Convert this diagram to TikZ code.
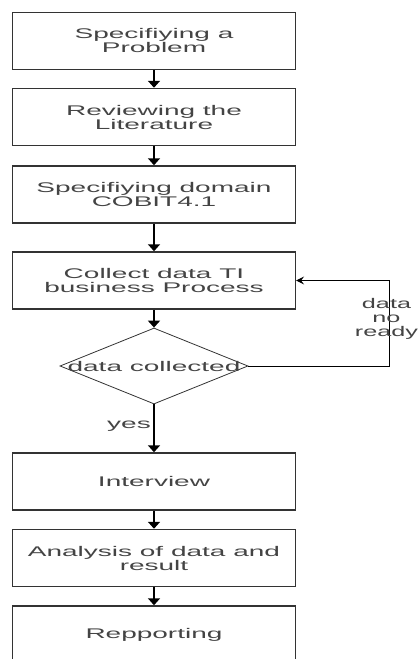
\documentclass[tikz,border=0pt]{standalone}
\usepackage{fontspec}
\newfontfamily\widefont[FakeStretch=2.0]{Liberation Sans}
\newfontfamily\sidefont[FakeStretch=1.8]{Liberation Sans}
\usetikzlibrary{shapes.geometric,arrows.meta}
\definecolor{txt}{HTML}{444444}
\definecolor{edge}{HTML}{333333}
\begin{document}
\begin{tikzpicture}[x=1pt,y=-1pt,
  stepbox/.style={draw=edge,line width=1.5pt,rectangle,minimum width=282.6pt,minimum height=57pt,inner sep=0pt,
    align=center,text=txt,font=\widefont\fontsize{14}{14}\selectfont},
  decision/.style={draw=edge,line width=0.8pt,diamond,aspect=2.4737,minimum width=188pt,minimum height=76pt,inner sep=0pt,
    text=txt,font=\widefont\fontsize{14}{14}\selectfont},
  lab/.style={text=txt,font=\widefont\fontsize{14}{14}\selectfont,align=center,inner sep=0pt},
  sidelab/.style={text=txt,font=\sidefont\fontsize{14}{14}\selectfont,align=center,inner sep=0pt},
  flow/.style={line width=2pt,-{Triangle[width=12pt,length=7pt]}},
  loop/.style={line width=1pt,draw=black,-{Stealth[width=8pt,length=8pt,inset=3pt]}}]
\clip (0,0) rectangle (419,659);
\useasboundingbox (0,0) rectangle (419,659);
\node[stepbox] (b1) at (154,40.8) {Specifiying a\\Problem};
\node[stepbox] (b2) at (154,117) {Reviewing the\\Literature};
\node[stepbox] (b3) at (154,194.5) {Specifiying domain\\COBIT4.1};
\node[stepbox] (b4) at (154,280.5) {Collect data TI\\business Process};
\node[decision] (d) at (154,366) {};
\node[lab] (dt) at (154,366) {data collected};
\node[stepbox] (b5) at (154,481.5) {Interview};
\node[stepbox] (b6) at (154,558) {Analysis of data and\\result};
\node[stepbox] (b7) at (154,634.5) {Repporting};
\draw[flow] (b1.south) -- (b2.north);
\draw[flow] (b2.south) -- (b3.north);
\draw[flow] (b3.south) -- (b4.north);
\draw[flow] (b4.south) -- (d.north);
\draw[flow] (d.south) -- (b5.north);
\draw[flow] (b5.south) -- (b6.north);
\draw[flow] (b6.south) -- (b7.north);
\coordinate (c1) at (389,366);
\coordinate (c2) at (389,280.5);
\draw[loop] (d.east) -- (c1) -- (c2) -- (b4.east);
\node[sidelab] (no) at (386.5,319) {data\\no\\ready};
\node[lab,anchor=east] (yes) at (151,426) {yes};
\end{tikzpicture}
\end{document}
